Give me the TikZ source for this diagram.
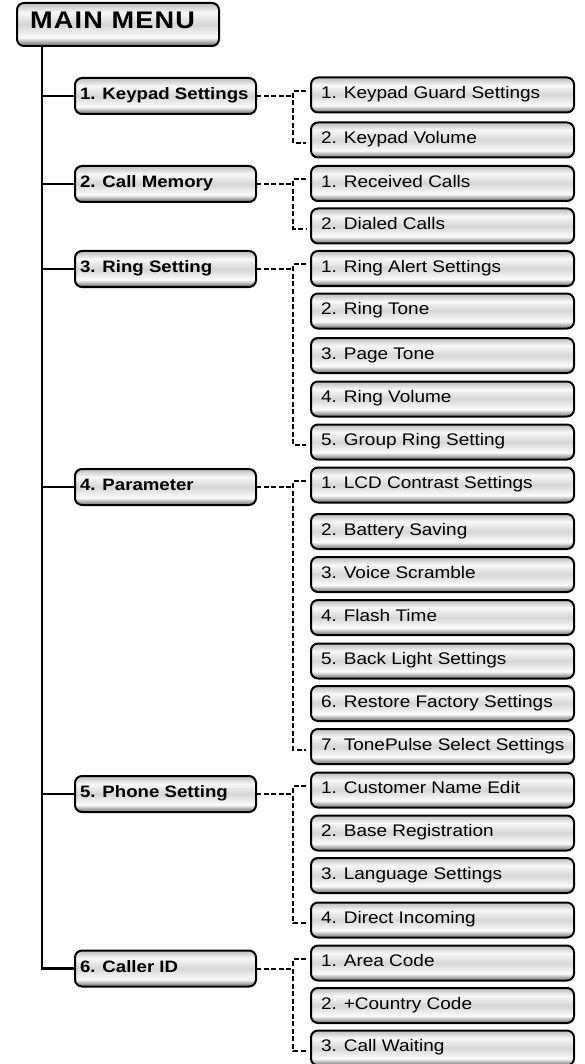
\documentclass[tikz,border=0pt]{standalone}
\usepackage{fontspec}
\setmainfont{Liberation Sans}[FakeStretch=1.13]
\usetikzlibrary{calc}
\definecolor{mA}{HTML}{BCBCBC}
\definecolor{mB}{HTML}{F8F8F8}
\definecolor{mC}{HTML}{D6D6D6}
\definecolor{mD}{HTML}{FCFCFC}
\definecolor{mE}{HTML}{9C9C9C}
\definecolor{mF}{HTML}{7A7A7A}
\pgfdeclareverticalshading{metal}{100bp}{color(0bp)=(mF); color(25bp)=(mF); color(28.5bp)=(mE); color(35bp)=(mD); color(50bp)=(mC); color(64bp)=(mB); color(75bp)=(mA); color(100bp)=(mA)}
\newcommand{\lbox}[2]{\makebox[#1][l]{#2}}
\begin{document}
\begin{tikzpicture}[x=1pt,y=-1pt,
  box/.style={draw=black, line width=2pt, rounded corners=7pt, shading=metal,
    outer sep=0pt, anchor=west, text height=0.72em, text depth=0pt},
  menubox/.style={box, font=\fontsize{24}{27}\selectfont\bfseries\addfontfeature{LetterSpace=5},
    minimum height=43pt, inner xsep=13pt},
  lvlone/.style={box, font=\fontsize{16.5}{19}\selectfont\bfseries,
    minimum height=36pt, inner xsep=5pt},
  lvltwo/.style={box, font=\fontsize{16.8}{19}\selectfont,
    minimum height=35pt, inner xsep=10pt},
  trunk/.style={line width=2.5pt},
  dashline/.style={line width=2pt, dash pattern=on 5pt off 2.5pt}]
\useasboundingbox (0,0) rectangle (584,1064);

\node[menubox] (main) at (17,24.5) {\lbox{176pt}{MAIN MENU}};

% level one
\node[lvlone] (k) at (75,96)    {\lbox{171pt}{1. Keypad Settings}};
\node[lvlone] (c) at (75,184)   {\lbox{171pt}{2. Call Memory}};
\node[lvlone] (r) at (75,269)   {\lbox{171pt}{3. Ring Setting}};
\node[lvlone] (p) at (75,487)   {\lbox{171pt}{4. Parameter}};
\node[lvlone] (s) at (75,794)   {\lbox{171pt}{5. Phone Setting}};
\node[lvlone] (d) at (75,968.5) {\lbox{171pt}{6. Caller ID}};

% level two
\node[lvltwo] (k1) at (311,95)     {\lbox{243pt}{1. Keypad Guard Settings}};
\node[lvltwo] (k2) at (311,140)    {\lbox{243pt}{2. Keypad Volume}};
\node[lvltwo] (c1) at (311,183.5)  {\lbox{243pt}{1. Received Calls}};
\node[lvltwo] (c2) at (311,226)    {\lbox{243pt}{2. Dialed Calls}};
\node[lvltwo] (r1) at (311,268.5)  {\lbox{243pt}{1. Ring Alert Settings}};
\node[lvltwo] (r2) at (311,311)    {\lbox{243pt}{2. Ring Tone}};
\node[lvltwo] (r3) at (311,355.5)  {\lbox{243pt}{3. Page Tone}};
\node[lvltwo] (r4) at (311,399)    {\lbox{243pt}{4. Ring Volume}};
\node[lvltwo] (r5) at (311,442)    {\lbox{243pt}{5. Group Ring Setting}};
\node[lvltwo] (p1) at (311,485)    {\lbox{243pt}{1. LCD Contrast Settings}};
\node[lvltwo] (p2) at (311,531.5)  {\lbox{243pt}{2. Battery Saving}};
\node[lvltwo] (p3) at (311,574.5)  {\lbox{243pt}{3. Voice Scramble}};
\node[lvltwo] (p4) at (311,617.5)  {\lbox{243pt}{4. Flash Time}};
\node[lvltwo] (p5) at (311,661)    {\lbox{243pt}{5. Back Light Settings}};
\node[lvltwo] (p6) at (311,703.5)  {\lbox{243pt}{6. Restore Factory Settings}};
\node[lvltwo] (p7) at (311,746.5)  {\lbox{243pt}{7. TonePulse Select Settings}};
\node[lvltwo] (s1) at (311,790)    {\lbox{243pt}{1. Customer Name Edit}};
\node[lvltwo] (s2) at (311,833)    {\lbox{243pt}{2. Base Registration}};
\node[lvltwo] (s3) at (311,875.5)  {\lbox{243pt}{3. Language Settings}};
\node[lvltwo] (s4) at (311,920)    {\lbox{243pt}{4. Direct Incoming}};
\node[lvltwo] (d1) at (311,963)    {\lbox{243pt}{1. Area Code}};
\node[lvltwo] (d2) at (311,1005.5) {\lbox{243pt}{2. +Country Code}};
\node[lvltwo] (d3) at (311,1048)   {\lbox{243pt}{3. Call Waiting}};

% trunk
\coordinate (tr) at (42,0);
\coordinate (jx) at (293,0);
\draw[trunk] (main.south -| tr) -- (tr |- d.west) -- (d.west);
\foreach \q in {k,c,r,p,s}
  \draw[trunk] (tr |- \q.west) -- (\q.west);

% dashed connectors
\foreach \q/\a/\b in {k/k1/k2, c/c1/c2, r/r1/r5, p/p1/p7, s/s1/s4, d/d1/d3} {
  \draw[dashline] (\q.east) -- (\q.east -| jx);
  \draw[dashline] ($(\a.west)+(-5,-4)$) -- ($(\a.west -| jx)+(0,-4)$)
     -- ($(\b.west -| jx)+(0,3)$) -- ($(\b.west)+(-5,3)$);
}
\end{tikzpicture}
\end{document}
